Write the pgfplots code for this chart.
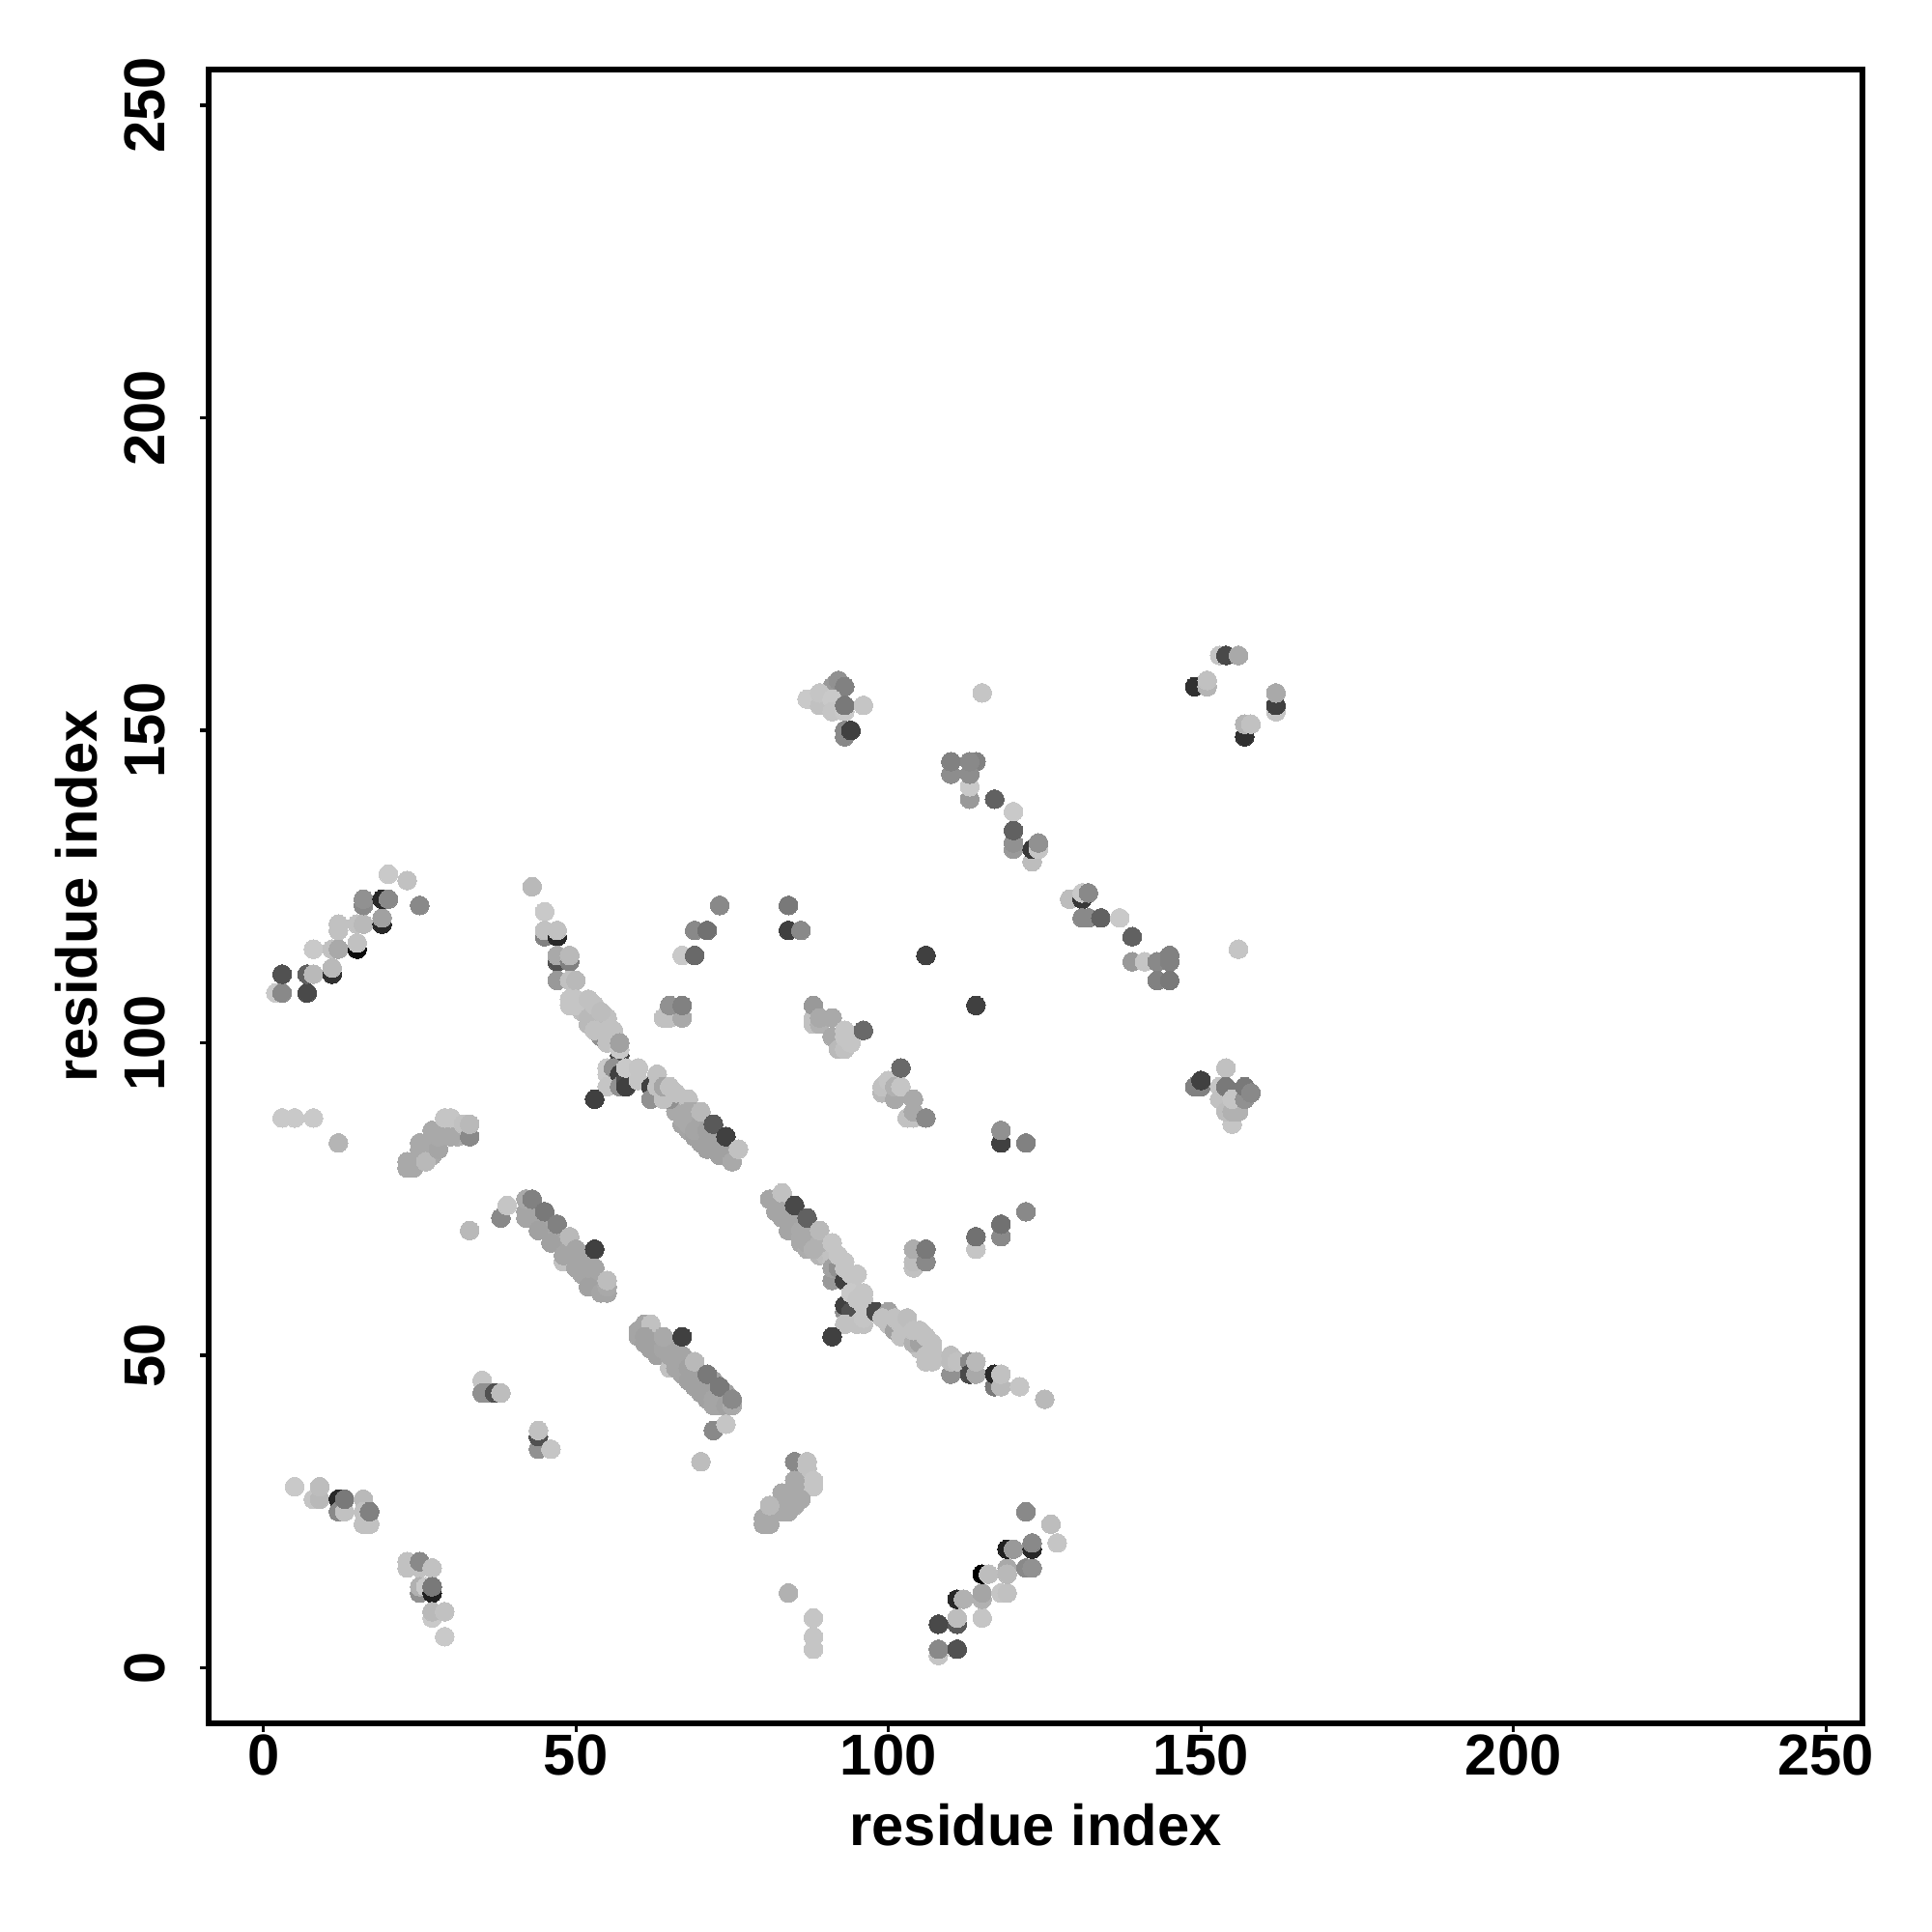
\documentclass[border=0pt]{standalone}
\usepackage{fontspec}
\setmainfont{Liberation Sans}
\usepackage{pgfplots}
\usepackage{pgfplotstable}
\pgfplotsset{compat=1.18}
\pgfplotstableread{
x y g
44 72 164
44 71 164
45 71 164
45 70 164
46 70 164
46 69 164
47 69 164
47 68 164
48 68 164
48 67 164
49 67 164
49 66 164
49 65 164
50 66 164
51 66 164
51 65 164
51 64 164
51 63 164
52 63 164
52 62 164
53 62 164
53 61 164
54 62 164
54 61 164
55 60 164
66 89 168
67 89 168
67 87 164
68 86 164
69 87 164
69 85 160
70 86 160
70 85 160
70 84 160
71 85 160
71 83 160
72 85 160
72 83 160
73 84 160
73 83 160
74 84 160
74 82 160
75 83 160
82 74 164
82 73 164
83 72 164
83 74 164
84 73 164
84 70 164
85 72 164
85 71 164
85 70 164
86 71 168
86 68 168
87 70 168
87 69 168
87 67 172
88 69 172
88 68 172
89 67 180
89 66 180
90 68 184
90 67 188
90 66 188
91 66 192
91 65 192
60 53 164
62 53 164
62 51 160
63 53 164
63 52 160
64 52 160
64 50 160
65 52 160
65 51 160
65 49 164
66 51 164
67 49 164
67 48 164
67 47 164
68 49 164
68 47 164
69 48 164
69 47 160
69 45 160
70 47 160
70 46 160
71 46 160
71 45 160
71 44 160
72 46 160
72 45 160
72 44 160
73 44 160
73 43 160
73 42 164
74 44 160
74 43 160
51 106 192
51 105 188
52 105 188
52 103 184
53 105 192
53 103 184
54 104 188
54 103 188
54 102 188
55 104 192
55 103 192
55 101 192
56 101 192
56 100 192
101 55 192
102 54 192
103 55 192
103 54 188
103 53 184
104 53 184
105 53 184
106 52 188
106 51 192
107 51 192
105 51 192
94 59 196
94 58 196
95 60 196
95 58 196
95 57 196
95 56 196
96 59 196
96 57 196
94 56 192
25 82 168
26 83 168
26 82 168
27 85 168
27 83 168
28 84 168
29 85 172
29 86 176
29 87 184
30 86 176
30 87 184
31 87 188
31 86 176
31 85 172
32 86 188
27 82 168
83 26 172
84 28 168
84 27 168
84 26 168
85 28 168
85 27 168
85 26 168
86 28 168
86 29 172
86 30 172
2 108 200
3 108 136
3 111 80
7 108 72
7 111 96
8 111 184
8 115 200
11 115 192
12 115 168
11 111 48
11 112 184
15 115 10
15 116 192
12 118 192
12 119 192
15 119 192
16 119 184
19 119 40
19 120 160
16 122 136
16 123 144
19 123 40
20 123 136
25 122 136
20 127 200
23 126 192
3 88 200
5 88 200
8 88 200
12 84 180
23 81 168
23 80 168
24 80 168
24 81 168
25 83 168
25 84 168
26 84 168
27 84 168
26 81 184
28 83 164
28 85 168
27 86 168
28 86 168
30 85 168
29 88 196
30 88 196
32 87 192
33 85 136
33 87 184
43 125 184
45 121 200
45 117 128
45 118 192
47 117 40
47 118 192
47 113 80
47 114 168
49 113 128
49 114 184
47 110 152
49 110 192
50 110 184
49 107 196
49 106 196
50 107 196
50 106 196
52 104 184
53 104 184
52 107 192
53 106 192
54 105 188
54 101 144
53 102 192
55 102 192
56 102 192
55 100 192
57 98 72
57 99 200
57 100 160
55 96 200
55 95 200
55 93 196
56 96 144
57 95 64
57 93 144
58 94 72
58 93 64
58 96 200
60 96 196
60 94 196
53 91 64
62 93 64
62 91 144
63 93 192
63 95 192
65 91 144
64 91 192
64 93 164
65 93 192
66 92 192
68 91 192
67 88 168
68 89 168
69 89 168
68 88 168
68 87 168
69 86 164
70 87 164
71 86 160
71 84 160
72 84 160
73 82 160
74 83 160
70 89 184
72 87 88
74 85 64
75 81 168
76 83 192
65 104 192
64 104 192
67 104 168
65 106 144
67 106 128
67 114 200
69 114 104
69 118 136
71 118 112
73 122 136
84 122 120
84 118 64
86 118 136
106 114 64
88 103 192
88 104 192
89 103 176
88 106 152
89 104 168
91 104 168
91 101 168
92 99 184
93 99 192
93 101 196
93 102 196
94 100 196
96 102 104
99 92 184
99 93 192
100 94 196
101 91 168
101 93 176
102 93 196
102 96 104
103 88 192
104 88 192
104 89 168
104 91 168
106 88 136
38 72 136
39 74 196
42 72 164
42 73 164
43 72 164
43 73 164
42 75 168
43 75 128
44 70 160
45 73 120
46 68 160
47 71 128
48 65 192
48 66 164
49 69 184
50 64 164
50 65 164
50 67 164
52 61 160
52 64 164
53 64 164
54 60 164
55 61 168
55 62 188
53 67 64
60 54 164
61 55 164
62 55 192
61 53 160
61 52 160
62 52 160
63 51 160
63 50 160
64 51 164
64 53 168
65 48 192
65 50 164
66 48 164
66 49 164
66 50 164
67 50 164
67 53 64
68 46 160
68 48 160
69 46 160
69 49 184
70 44 160
70 45 160
71 43 160
71 47 120
72 42 164
72 43 164
73 45 120
74 42 160
75 42 168
75 43 136
72 38 136
74 39 196
70 33 188
33 70 184
35 46 196
35 44 144
36 44 144
37 44 80
38 44 188
44 35 144
44 37 80
44 38 192
46 35 196
5 29 200
8 27 196
9 27 184
9 29 188
12 27 40
12 25 136
13 25 192
13 27 120
16 27 184
16 25 192
16 23 192
17 23 192
17 25 128
23 17 192
23 16 192
25 16 192
25 17 136
27 16 192
25 12 144
25 13 176
26 13 200
27 12 32
27 13 120
27 8 200
27 9 184
29 9 192
29 5 200
85 33 136
87 32 192
87 33 192
88 29 196
88 30 196
83 25 168
83 27 168
83 28 168
84 25 168
85 29 168
85 30 168
86 27 168
80 23 168
80 24 168
81 23 168
81 24 168
81 26 184
84 12 176
88 3 196
88 5 196
88 8 196
108 2 196
108 3 136
111 3 80
108 7 72
111 7 88
111 8 188
111 11 40
112 11 176
115 8 196
115 11 176
115 12 164
115 15 0
116 15 188
118 12 196
119 12 192
119 16 168
119 15 184
122 16 136
123 16 144
119 19 32
120 19 152
123 19 40
123 20 136
122 25 136
126 23 188
127 20 196
81 75 164
83 76 192
83 73 164
84 71 164
84 72 164
86 69 168
86 70 168
85 74 72
87 68 168
87 72 96
88 67 176
89 68 176
89 70 184
91 62 152
91 64 160
91 68 196
92 64 144
92 66 196
93 62 64
93 64 196
93 65 196
94 63 196
95 63 196
93 57 144
93 58 64
94 57 80
96 56 160
93 55 192
95 55 192
96 55 192
94 60 200
96 60 196
95 59 196
96 58 196
96 56 196
91 53 64
98 57 72
100 57 160
99 56 192
100 55 192
101 54 160
101 56 192
102 55 192
103 56 188
102 53 192
104 52 176
105 52 160
104 54 192
105 54 192
106 53 192
107 52 192
106 50 192
107 50 192
106 49 192
107 49 192
110 47 144
110 49 188
110 50 188
111 49 192
113 49 136
113 47 72
114 47 168
114 49 184
117 45 120
117 47 40
118 45 184
118 47 192
121 45 196
125 43 184
118 84 64
118 86 144
122 84 128
122 73 136
118 69 136
118 71 112
114 67 196
114 69 112
104 64 192
104 65 188
104 67 172
106 65 136
106 67 120
91 157 152
92 158 144
93 157 128
87 155 200
89 154 192
89 156 196
91 155 200
91 153 196
93 153 200
93 154 120
96 154 196
93 149 136
93 150 136
94 150 64
115 156 196
153 162 196
154 162 72
156 162 168
149 157 48
151 157 180
151 158 192
162 153 196
162 154 64
162 156 168
157 149 48
157 151 180
158 151 192
110 143 140
110 145 128
114 145 128
113 139 152
113 141 200
113 143 140
113 145 136
117 139 96
120 131 152
120 132 144
120 134 96
120 137 200
123 129 188
123 131 56
124 131 196
124 132 144
129 123 188
131 123 56
131 124 200
132 124 136
131 120 136
132 120 136
134 120 96
137 120 200
139 117 96
139 113 152
141 113 196
143 113 136
145 114 128
145 113 128
143 110 128
145 110 120
156 115 196
114 106 64
154 96 192
149 93 128
150 93 128
150 94 64
153 93 196
153 91 192
154 93 120
155 87 196
154 89 188
155 89 176
156 89 176
155 91 196
157 91 144
157 93 120
158 92 136
}\pts
\begin{document}
\begin{tikzpicture}
\path[use as bounding box] (0,0) rectangle (720pt,720pt);
\begin{axis}[
  at={(77.76pt,77.76pt)}, anchor=south west,
  scale only axis, width=616.32pt, height=616.32pt,
  xmin=-8.76, xmax=255.84, ymin=-8.86, ymax=255.74,
  axis line style={line width=2.16pt},
  clip=false,
  xtick={0,50,100,150,200,250}, ytick={0,50,100,150,200,250},
  tick align=outside, xtick pos=bottom, ytick pos=left,
  major tick length=3.2pt,
  tick style={line width=1.2pt, black},
  /pgf/number format/assume math mode=true,
  tick label style={font=\fontsize{21.5}{24}\selectfont\bfseries},
  yticklabel style={xshift=-13.2pt, rotate=90, anchor=base},
  xticklabel style={anchor=base, yshift=-16.1pt},
  xlabel={residue index}, ylabel={residue index},
  label style={font=\fontsize{21.5}{24}\selectfont\bfseries},
  xlabel style={at={(axis description cs:0.5,0)}, anchor=base, yshift=-45.7pt},
  ylabel style={at={(axis description cs:0,0.5)}, anchor=base, rotate=0, yshift=41.5pt},
  colormap={g}{rgb255(0cm)=(0,0,0); rgb255(1cm)=(255,255,255)},
  point meta min=0, point meta max=255,
]
\addplot[only marks, mark=*, mark size=3.5pt, scatter,
  mark options={line width=0pt},
  scatter/use mapped color={draw=mapped color, fill=mapped color},
  point meta=explicit] table[x=x, y=y, meta=g] {\pts};
\end{axis}
\end{tikzpicture}
\end{document}
